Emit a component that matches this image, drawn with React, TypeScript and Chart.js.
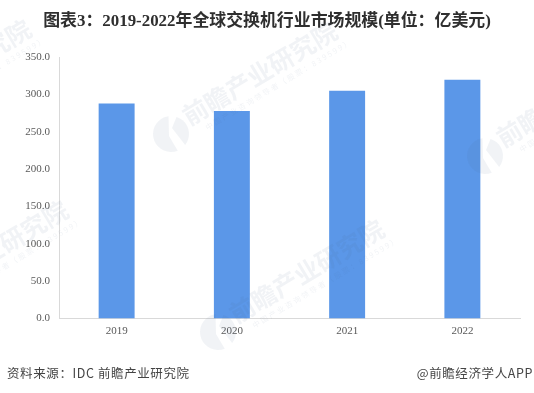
import React, { useEffect, useRef } from "react";
import { Chart, registerables } from "chart.js";

Chart.register(...registerables);

const categories = ["2019", "2020", "2021", "2022"];
const marketSize = [288, 278, 305, 320];
const titleText = "图表3：2019-2022年全球交换机行业市场规模(单位：亿美元)";
const sourceText = "资料来源：IDC 前瞻产业研究院";
const creditText = "@前瞻经济学人APP";
const watermarkText = "前瞻产业研究院";
const watermarkSubText = "中国产业咨询领导者（股票：839599）";
const watermarkAnchors = [
  [171, 134],
  [218, 332],
  [485, 156],
  [-98, 313],
  [-135, 132],
];

const footerAndWatermark = {
  id: "footerAndWatermark",
  afterDatasetsDraw(chart: Chart) {
    const ctx = chart.ctx;
    ctx.save();
    ctx.fillStyle = "rgba(80,100,145,0.08)";
    ctx.textBaseline = "middle";
    ctx.textAlign = "left";
    for (const [x, y] of watermarkAnchors) {
      const cx = x;
      const cy = y;
      const deg = Math.PI / 180;
      ctx.beginPath();
      ctx.moveTo(cx - 2, cy + 2);
      ctx.arc(cx, cy, 18, 68 * deg, 262 * deg);
      ctx.closePath();
      ctx.fill();
      ctx.beginPath();
      ctx.moveTo(cx + 1, cy - 6);
      ctx.arc(cx, cy, 18, -72 * deg, 38 * deg);
      ctx.closePath();
      ctx.fill();

      ctx.save();
      ctx.translate(x + 24, y - 22);
      ctx.rotate(-0.54);
      ctx.font = "bold 25px 'Noto Sans CJK SC'";
      ctx.fillText(watermarkText, -12, 0);
      ctx.restore();

      ctx.save();
      ctx.translate(x + 35, y - 6);
      ctx.rotate(-0.54);
      ctx.font = "7.5px 'Noto Sans CJK SC'";
      ctx.letterSpacing = "2px";
      ctx.fillText(watermarkSubText, 0, 0);
      ctx.restore();
    }
    ctx.restore();
  },
  afterDraw(chart: Chart) {
    const ctx = chart.ctx;
    ctx.save();
    ctx.fillStyle = "#444444";
    ctx.font = "12.5px 'Noto Sans CJK SC'";
    ctx.textBaseline = "middle";
    ctx.textAlign = "left";
    ctx.letterSpacing = "0.6px";
    ctx.fillText(sourceText, 7, 373);
    ctx.textAlign = "right";
    ctx.fillText(creditText, 533, 373);
    ctx.restore();
  },
};

export default function App() {
  const ref = useRef<HTMLCanvasElement>(null);
  useEffect(() => {
    const chart = new Chart(ref.current!, {
      type: "bar",
      data: {
        labels: categories,
        datasets: [
          {
            data: marketSize,
            backgroundColor: "#5B97E8",
            barPercentage: 0.312,
            categoryPercentage: 1,
          },
        ],
      },
      options: {
        animation: false,
        responsive: false,
        layout: { padding: { left: 14, right: 14, top: 0, bottom: 0 } },
        plugins: {
          legend: { display: false },
          tooltip: { enabled: false },
          title: {
            display: true,
            text: titleText,
            color: "#2F2F2F",
            font: { family: "'Liberation Serif','Noto Sans CJK SC'", size: 16.9, weight: "bold" },
            padding: { top: 12, bottom: 25 },
          },
        },
        scales: {
          x: {
            grid: { display: false, drawTicks: false },
            border: { color: "#D9D9D9", width: 1 },
            ticks: {
              color: "#595959",
              font: { family: "'Liberation Serif'", size: 11 },
              padding: 6,
            },
            afterFit(scale: any) {
              scale.height = 74.5;
            },
          },
          y: {
            min: 0,
            max: 350,
            grid: { display: false, drawTicks: false },
            border: { color: "#D9D9D9", width: 1 },
            ticks: {
              stepSize: 50,
              color: "#595959",
              font: { family: "'Liberation Serif'", size: 11 },
              padding: 9,
              callback: (v: any) => Number(v).toFixed(1),
            },
            afterFit(scale: any) {
              scale.width = 45;
            },
          },
        },
      },
      plugins: [footerAndWatermark],
    });
    return () => chart.destroy();
  }, []);
  return (
    <canvas
      ref={ref}
      width={534}
      height={393}
      style={{ position: "absolute", left: 0, top: 0, width: 534, height: 393 }}
    />
  );
}
